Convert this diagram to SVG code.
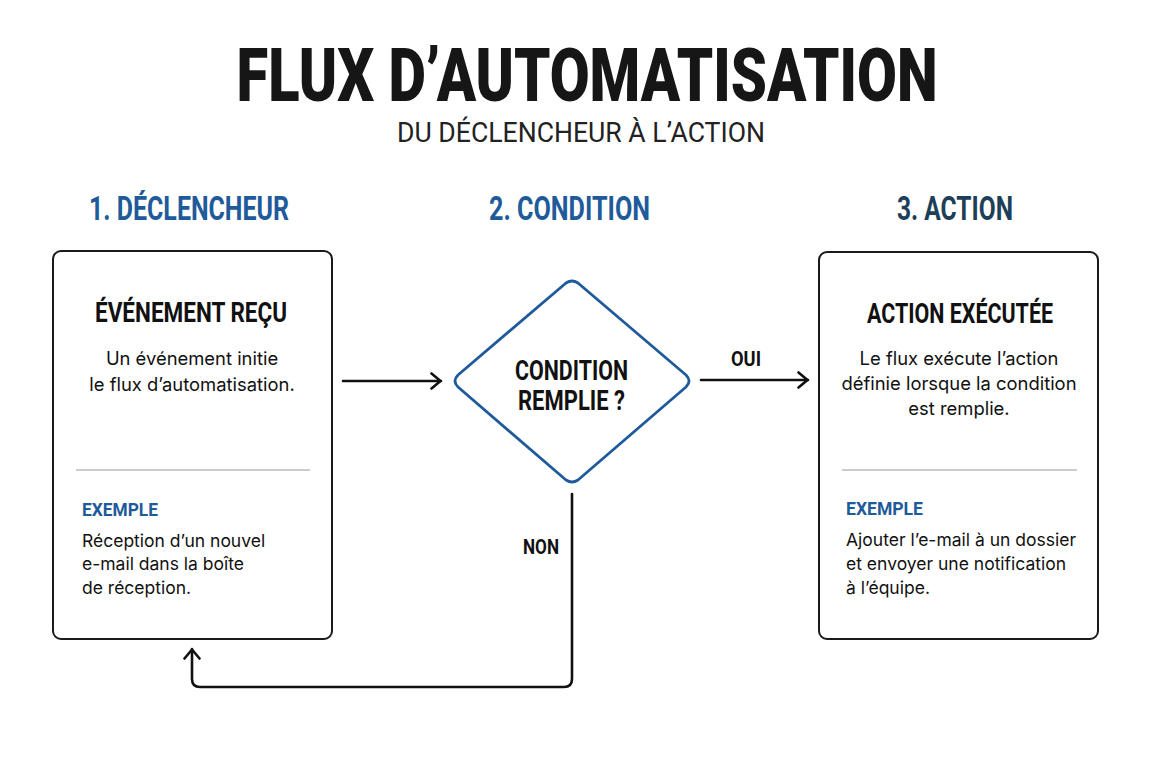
<svg xmlns="http://www.w3.org/2000/svg" width="1152" height="768" viewBox="0 0 1152 768">
<defs>
<style>
.cond{font-family:Roboto,"Liberation Sans",sans-serif;font-weight:700}
.title{font-size:75px;fill:#161616;font-weight:900}
.sub{font-family:Roboto,"Liberation Sans",sans-serif;font-weight:400;font-size:28px;fill:#222}
.step{font-size:33px}
.blue{fill:#1f5a9a}
.dark{fill:#1d3f58}
.h{font-size:28px;fill:#111}
.ex{font-size:19px;fill:#1f5a9a}
.body{font-family:Inter,"Noto Sans",sans-serif;font-size:18.4px;fill:#111}
.exb{font-family:Inter,"Noto Sans",sans-serif;font-size:17.5px;fill:#111}
.lbl{font-size:20px;fill:#111}
.box{fill:#fff;stroke:#1a1a1a;stroke-width:2}
.div{stroke:#9a9a9a;stroke-width:1.2}
.line{fill:none;stroke:#111;stroke-width:2.6;stroke-linecap:round;stroke-linejoin:round}
</style>
<marker id="arr" viewBox="0 0 12 18" refX="11" refY="9" markerWidth="12" markerHeight="18" markerUnits="userSpaceOnUse" orient="auto">
<path d="M1.5 1.5 L10.5 9 L1.5 16.5" fill="none" stroke="#111" stroke-width="2.6" stroke-linecap="round" stroke-linejoin="round"/>
</marker>
</defs>
<rect width="1152" height="768" fill="#fff"/>
<g id="header">
<text class="cond title" x="587" y="101" text-anchor="middle" textLength="701" lengthAdjust="spacingAndGlyphs">FLUX D’AUTOMATISATION</text>
<text class="sub" x="581" y="142" text-anchor="middle" textLength="368" lengthAdjust="spacingAndGlyphs">DU DÉCLENCHEUR À L’ACTION</text>
<text class="cond step blue" x="189" y="220" text-anchor="middle" textLength="200" lengthAdjust="spacingAndGlyphs">1. DÉCLENCHEUR</text>
<text class="cond step blue" x="569.5" y="220" text-anchor="middle" textLength="161" lengthAdjust="spacingAndGlyphs">2. CONDITION</text>
<text class="cond step dark" x="955" y="220" text-anchor="middle" textLength="116" lengthAdjust="spacingAndGlyphs">3. ACTION</text>
</g>
<g id="connectors">
<line class="line" x1="343" y1="381" x2="441" y2="381" marker-end="url(#arr)"/>
<line class="line" x1="701" y1="380" x2="808" y2="380" marker-end="url(#arr)"/>
<text class="cond lbl" x="746" y="366" text-anchor="middle" textLength="30" lengthAdjust="spacingAndGlyphs">OUI</text>
<path class="line" d="M572 494 L572 679 Q572 687 564 687 L200 687 Q192 687 192 679 L192 649" marker-end="url(#arr)"/>
<text class="cond lbl" x="541" y="554" text-anchor="middle" textLength="36" lengthAdjust="spacingAndGlyphs">NON</text>
</g>
<g id="node-declencheur">
<rect class="box" x="53" y="251" width="279" height="388" rx="8"/>
<text class="cond h" x="191" y="322" text-anchor="middle" textLength="192" lengthAdjust="spacingAndGlyphs">ÉVÉNEMENT REÇU</text>
<text class="body" x="192" y="365" text-anchor="middle">Un événement initie</text>
<text class="body" x="192" y="391" text-anchor="middle">le flux d’automatisation.</text>
<line class="div" x1="76" y1="470" x2="310" y2="470"/>
<text class="cond ex" x="82" y="516" textLength="76" lengthAdjust="spacingAndGlyphs">EXEMPLE</text>
<text class="exb" x="82" y="547">Réception d’un nouvel</text>
<text class="exb" x="82" y="570">e-mail dans la boîte</text>
<text class="exb" x="82" y="594">de réception.</text>
</g>
<g id="node-condition">
<path d="M566 283 Q572 279 578 283 L686 375 Q692 381 686 387 L578 480 Q572 484 566 480 L458 387 Q452 381 458 375 Z" fill="#fff" stroke="#1f5a9a" stroke-width="2.8" stroke-linejoin="round"/>
<text class="cond h" x="571.5" y="380" text-anchor="middle" textLength="113" lengthAdjust="spacingAndGlyphs">CONDITION</text>
<text class="cond h" x="571.5" y="410" text-anchor="middle" textLength="107" lengthAdjust="spacingAndGlyphs">REMPLIE ?</text>
</g>
<g id="node-action">
<rect class="box" x="819" y="252" width="279" height="387" rx="8"/>
<text class="cond h" x="960" y="323" text-anchor="middle" textLength="186" lengthAdjust="spacingAndGlyphs">ACTION EXÉCUTÉE</text>
<text class="body" x="959" y="365" text-anchor="middle">Le flux exécute l’action</text>
<text class="body" x="959" y="390" text-anchor="middle">définie lorsque la condition</text>
<text class="body" x="959" y="415" text-anchor="middle">est remplie.</text>
<line class="div" x1="842" y1="470" x2="1077" y2="470"/>
<text class="cond ex" x="846" y="515" textLength="77" lengthAdjust="spacingAndGlyphs">EXEMPLE</text>
<text class="exb" x="846" y="546">Ajouter l’e-mail à un dossier</text>
<text class="exb" x="846" y="570">et envoyer une notification</text>
<text class="exb" x="846" y="594">à l’équipe.</text>
</g>
</svg>
